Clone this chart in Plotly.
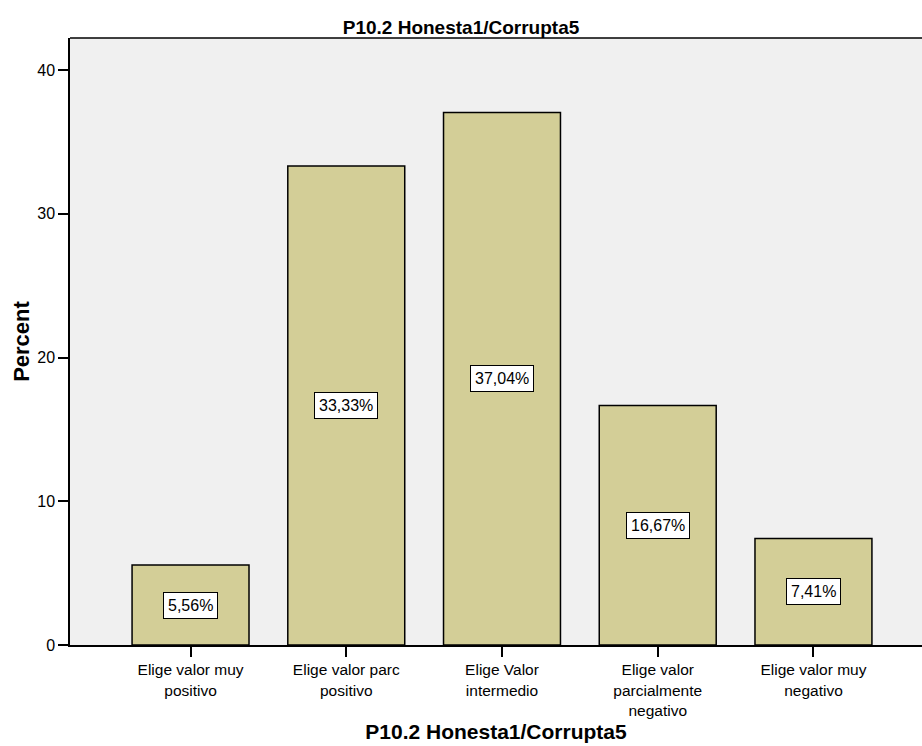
import plotly.graph_objects as go

categories = ["Elige valor muy<br>positivo", "Elige valor parc<br>positivo", "Elige Valor<br>intermedio",
              "Elige valor<br>parcialmente<br>negativo", "Elige valor muy<br>negativo"]
percents = [5.56, 33.33, 37.04, 16.67, 7.41]
value_labels = ["5,56%", "33,33%", "37,04%", "16,67%", "7,41%"]
y_ticks = [0, 10, 20, 30, 40]
title_text = "P10.2 Honesta1/Corrupta5"

FONT = "Arial, Liberation Sans, sans-serif"
idx = list(range(len(categories)))

fig = go.Figure()
fig.add_trace(go.Bar(
    x=idx, y=percents, width=0.751,
    marker=dict(color="#D3CE97", line=dict(color="black", width=1.5)),
    hoverinfo="skip",
))

for i, (v, t) in enumerate(zip(percents, value_labels)):
    fig.add_annotation(x=i, y=v / 2, text=t, showarrow=False,
                       font=dict(family=FONT, size=16, color="black"),
                       bgcolor="white", bordercolor="black", borderwidth=1, borderpad=4)

fig.add_shape(type="line", xref="paper", yref="paper", x0=0, x1=1, y0=1, y1=1,
              line=dict(color="black", width=1.5))

fig.update_layout(
    width=922, height=746,
    margin=dict(l=70, r=0, t=38, b=101),
    paper_bgcolor="white", plot_bgcolor="#F0F0F0",
    showlegend=False,
    title=dict(text="<b>" + title_text + "</b>", x=0.5, xanchor="center",
               y=1 - 27 / 746, yanchor="middle", yref="container",
               font=dict(family=FONT, size=19, color="black")),
    xaxis=dict(
        tickmode="array", tickvals=idx, ticktext=categories,
        range=[-0.774, 4.697], showgrid=False, zeroline=False,
        showline=True, linecolor="black", linewidth=1.5,
        ticks="outside", ticklen=10, tickwidth=1.5, tickcolor="black",
        tickfont=dict(family=FONT, size=15.5, color="black"),
        title=dict(text="<b>" + title_text + "</b>", standoff=7,
                   font=dict(family=FONT, size=21, color="black")),
    ),
    yaxis=dict(
        tickmode="array", tickvals=y_ticks, range=[0, 42.23],
        showgrid=False, zeroline=False,
        showline=True, linecolor="black", linewidth=1.5,
        ticks="outside", ticklen=10, tickwidth=1.5, tickcolor="black",
        tickfont=dict(family=FONT, size=16, color="black"),
        title=dict(text="<b>Percent</b>", standoff=2,
                   font=dict(family=FONT, size=22, color="black")),
    ),
)

fig.write_html("out.html", config={"displayModeBar": False},
               post_script="document.body.style.margin='0';")
